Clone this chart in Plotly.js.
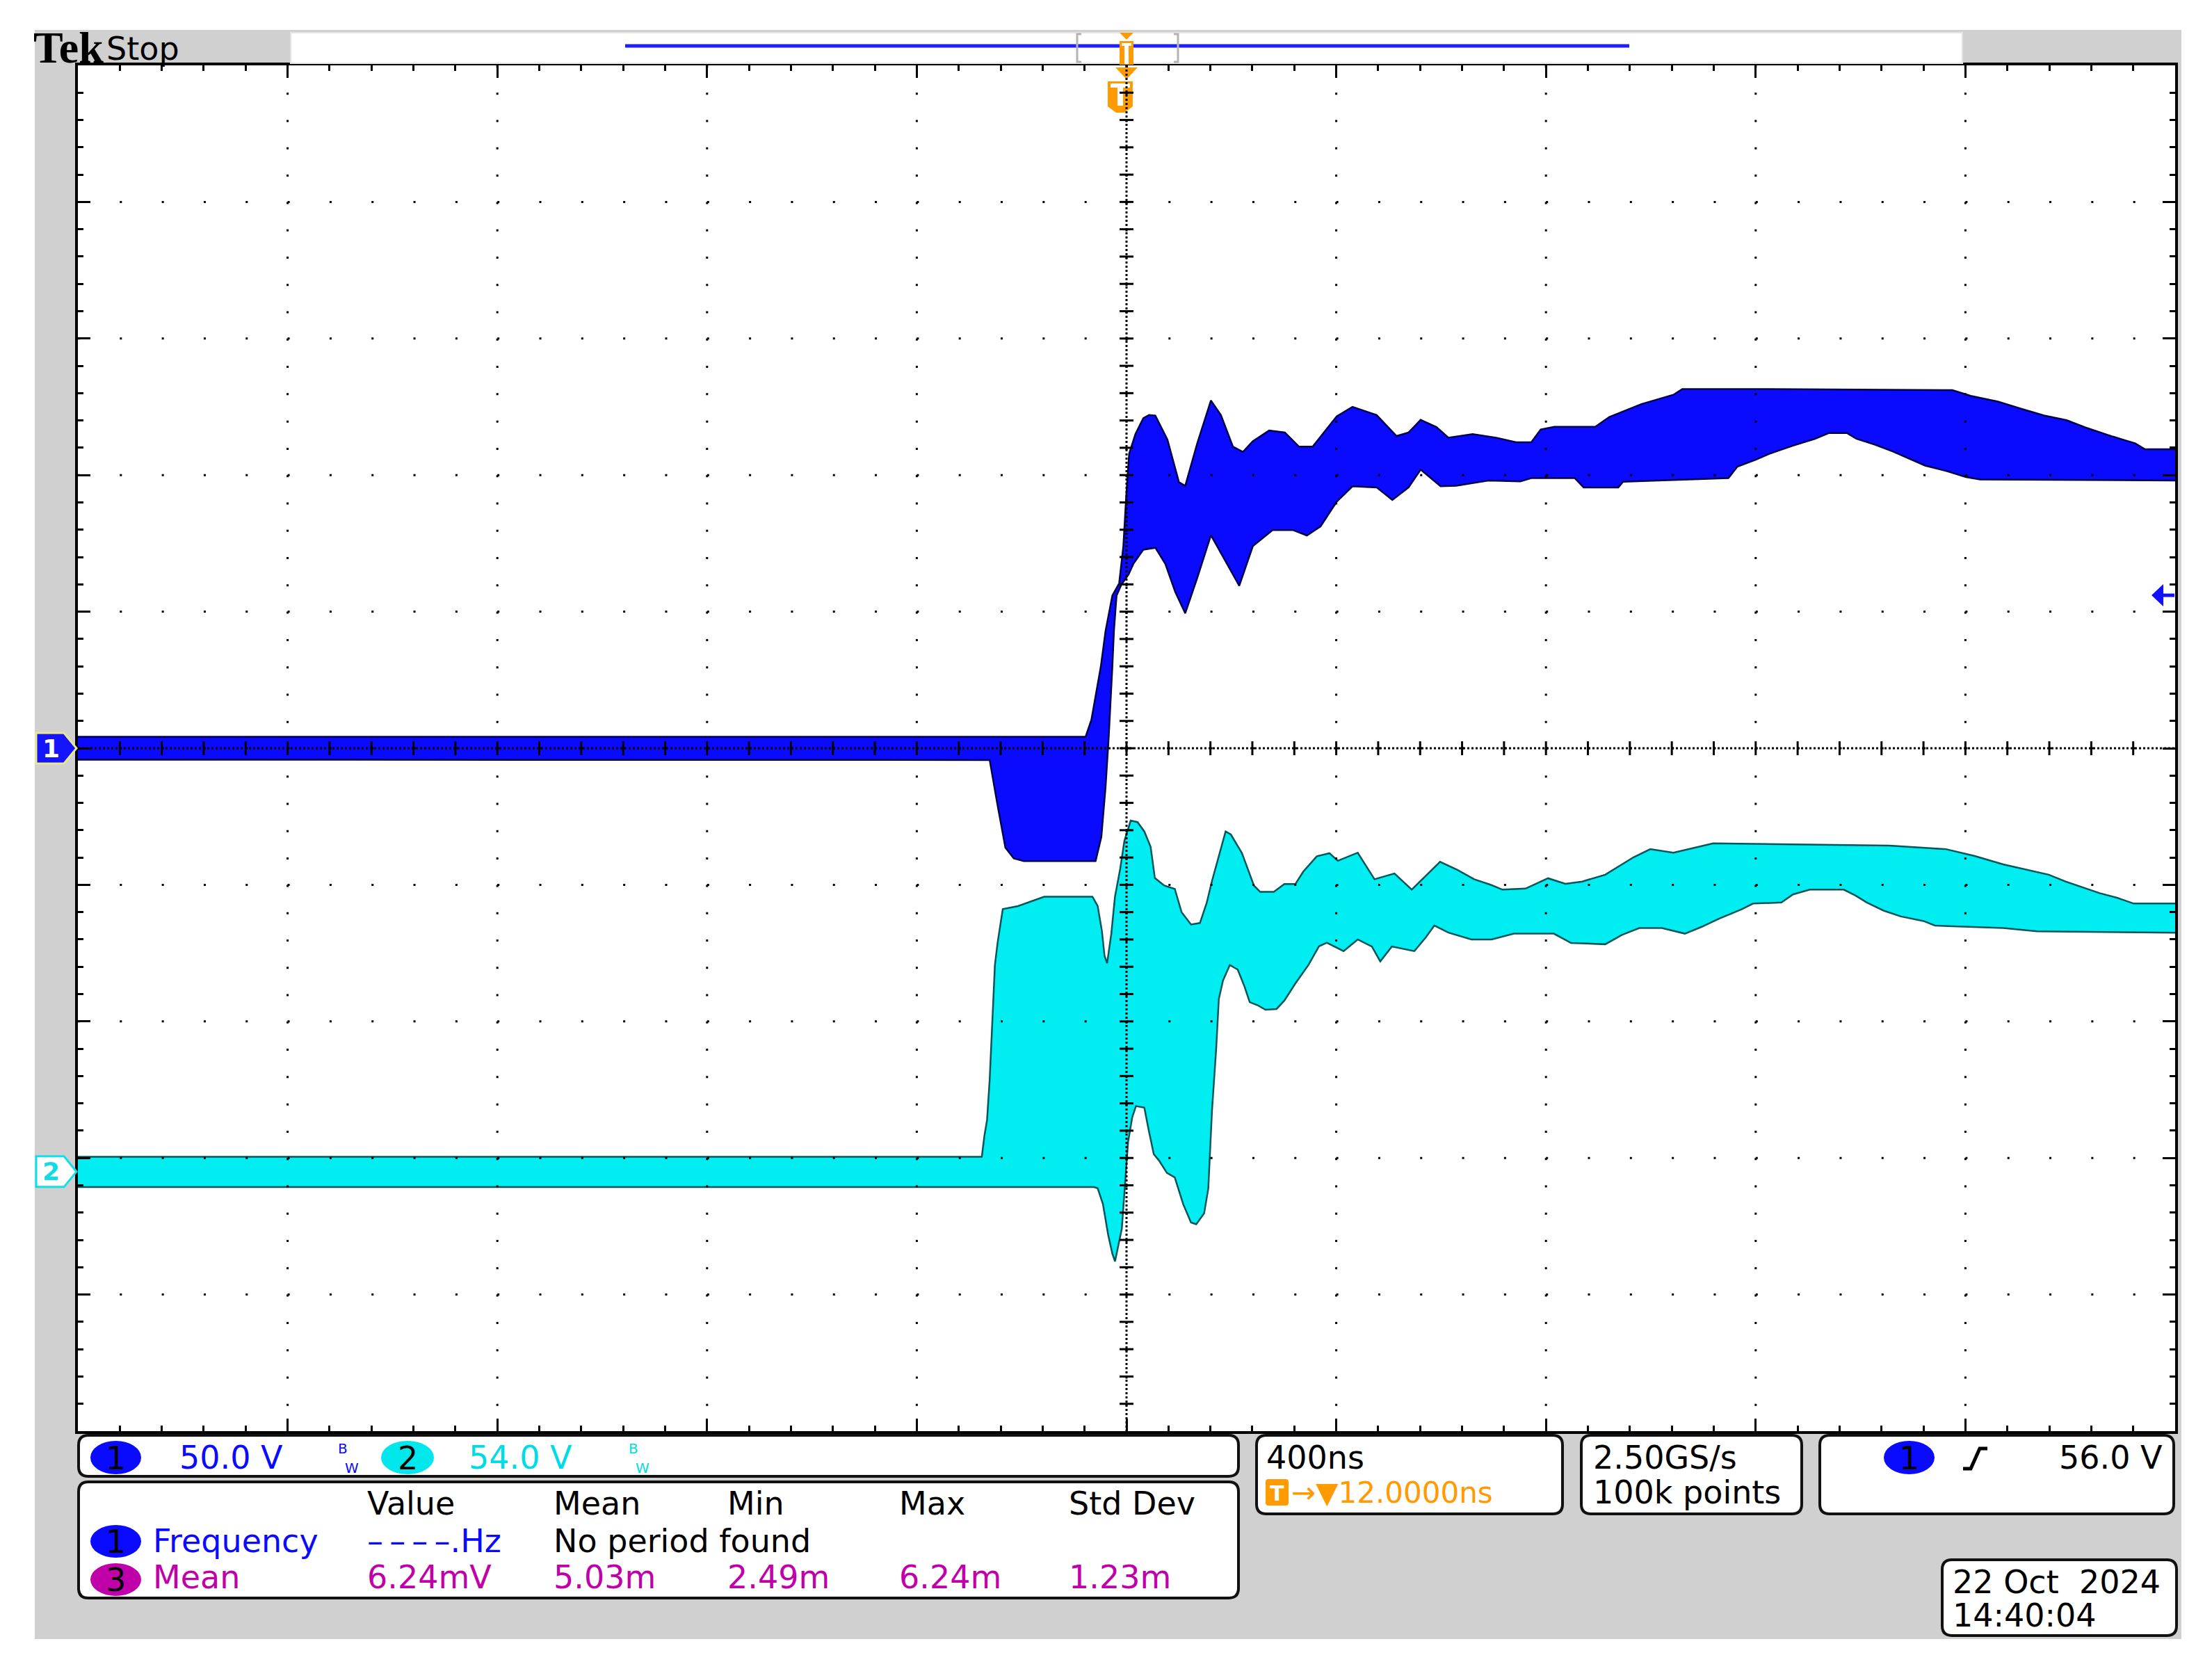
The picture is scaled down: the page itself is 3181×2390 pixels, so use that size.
<!DOCTYPE html>
<html><head><meta charset="utf-8">
<script src="https://cdn.plot.ly/plotly-3.0.1.min.js"></script>
<style>html,body{margin:0;padding:0;background:#fff;}</style>
</head><body>
<div id="chart" style="width:3181px;height:2390px;"></div>
<script>
// ---------------- Acquisition settings ----------------
const timePerDiv = 400;        // ns / div
const ch1VoltsPerDiv = 50.0;   // V / div
const ch2VoltsPerDiv = 54.0;   // V / div
const ch1Position = 0;         // div
const ch2Position = -3.1;      // div
const triggerLevel = 56.0;     // V (ch1, rising)
const triggerOffset = 12.0;    // ns, trigger -> center

// ---------------- Channel 1 envelope (time ns, volts) ----------------
const ch1UpperT = [-2000,-78,-67,-49,-40,-27,-14,-6,-1,5,17,32,43,55,78,100,112,135,161,180,203,222,241,272,302,329,355,374,401,431,477,515,538,561,591,614,660,705,743,772,790,816,894,921,955,982,1043,1060,1226,1575,1610,1662,1706,1750,1793,1828,1881,1924,1942,2000];
const ch1UpperV = [4.2,4.2,10.4,29.9,42.9,55.9,60.4,74,90.9,107.8,115,120.8,122,121.8,113,97.4,96.1,111.7,127.3,122,110.4,108.5,112.4,116.3,115.6,110.4,110.4,115,121.5,125,122,114.3,115.6,120.2,117.6,113.7,115,113.7,112,112,116.7,117.7,117.7,121.3,123.9,126,129.4,131.5,131.5,131.1,129,126.9,124.3,121.8,120.1,117.5,114.1,111.6,109.5,109.5];
const ch1LowerT = [-2000,-261,-246,-231,-215,-196,-59,-48,-40,-34,-27,-24,-19,-10,4,13,32,55,74,93,112,135,161,188,215,241,279,317,344,370,401,431,477,507,538,561,599,629,690,751,772,855,872,938,947,1148,1165,1200,1226,1270,1313,1340,1374,1392,1427,1462,1488,1523,1566,1601,1628,2000];
const ch1LowerV = [-4.2,-4.3,-20.8,-36.4,-40.3,-41.3,-41.3,-32.5,-14.3,3.9,29.9,42.9,55.9,59.8,63.7,67.5,72.7,73.4,67.5,57.2,49.4,62.4,78,68.9,59.5,74,79.9,79.9,77.9,81.2,90.3,95.9,95.5,90.9,95.5,102,95.9,96.1,98,97.7,98.9,98.9,95.5,95.5,97.6,98.9,103.1,105.6,107.8,110.7,113.3,115.4,115.4,113.3,111.2,108.6,106.5,103.5,101.4,99.3,98.4,98];

// ---------------- Channel 2 envelope (time ns, volts) ----------------
const ch2UpperT = [-2000,-276,-271,-266,-261,-256,-251,-246,-236,-207,-157,-65,-55,-47,-42,-37,-29,-22,-12,-4,8,21,34,46,54,72,92,105,123,140,153,163,179,189,199,220,243,255,281,301,322,337,363,387,403,441,473,511,544,576,598,631,663,696,717,761,804,837,869,913,945,967,999,1043,1119,1455,1563,1618,1672,1721,1759,1791,1824,1856,1889,1921,2000];
const ch2UpperV = [5.9,5.9,14.2,20.4,36.3,60.9,81.7,90.3,103.8,105,108.7,108.7,105,95.2,85.4,82.4,94,108.7,119.8,130.8,138.8,138.2,134.5,128.4,116.1,113.1,111.8,102.6,97.7,98.3,106.3,114.9,127.2,134.5,133.3,126,113.1,110.6,110.6,113.7,113.7,118.6,124.7,125.9,122.9,126.1,115.6,117.9,111.5,117.9,122.5,119.3,115.6,113.3,111.5,111.9,116,113.8,114.7,117.4,121.5,124.3,127.5,126.1,129.8,128.9,127.5,124.8,121.5,119.3,117.4,114.7,112.4,110.1,108.3,106,106];
const ch2LowerT = [-2000,-62,-55,-45,-35,-27,-22,-9,3,11,18,34,42,52,62,77,92,108,123,133,148,156,163,171,176,184,197,212,225,235,250,265,286,301,322,347,367,382,414,441,468,484,506,549,571,587,614,658,696,739,815,848,913,945,978,1021,1065,1097,1130,1173,1195,1249,1271,1303,1368,1390,1412,1444,1477,1520,1542,1672,1737,2000];
const ch2LowerV = [-6.1,-6.1,-6.6,-12.8,-25,-32.4,-35.5,-22.6,11.8,21.6,25.9,25.3,16.7,6.9,4.4,-0.5,-2.3,-12.8,-20.1,-20.8,-16.5,-6.6,24.1,48.6,68.2,75.6,81.7,79.9,73.2,67,65.8,64,64.3,67.6,74.4,81.7,89.1,90.5,87.2,91.8,89,83.1,89,87.2,92.7,97.3,94.5,91.8,91.8,94.1,94.1,90.4,89.9,93.6,96.3,96.3,94.1,96.8,100,103.7,106,106.4,109.6,111.5,111.5,109.2,106.4,103.2,100.9,99.1,97.3,96.3,95,94.5];

// ---------------- Readout texts ----------------
const measHeaders = ['Value', 'Mean', 'Min', 'Max', 'Std Dev'];
const meas1Label = 'Frequency';
const meas1Values = ['\u2013\u2009\u2013\u2009\u2013\u2009\u2013.Hz', 'No period found'];
const meas3Label = 'Mean';
const meas3Values = ['6.24mV', '5.03m', '2.49m', '6.24m', '1.23m'];
const timebaseText = '400ns';
const sampleRateText = '2.50GS/s';
const recordText = '100k points';
const dateText = '22 Oct\u00a0 2024';
const timeText = '14:40:04';

// ---------------- Geometry helpers ----------------
const W = 3181, H = 2390;
const L = 112, R = 3128, T = 94, B = 2058;
const PX = x => (x - L) / (R - L);
const PY = y => (B - y) / (B - T);
const divX = (R - L) / 10, divY = (B - T) / 10;
const FONT = 'DejaVu Sans, Verdana, sans-serif';
const C1 = '#0a0aff', C2 = '#00eef2', C2TXT = '#00dce4', C3 = '#c000a8', ORANGE = '#ff9a00';

const toDiv1 = v => v / ch1VoltsPerDiv + ch1Position;
const toDiv2 = v => v / ch2VoltsPerDiv + ch2Position;

function poly(pts) { return 'M' + pts.map(p => PX(p[0]) + ',' + PY(p[1])).join('L') + 'Z'; }
function openPath(pts) { return 'M' + pts.map(p => PX(p[0]) + ',' + PY(p[1])).join('L'); }
function rrect(x0, y0, x1, y1, r) {
  const f = (x, y) => PX(x) + ',' + PY(y);
  return 'M' + f(x0 + r, y0) + 'L' + f(x1 - r, y0) + 'Q' + f(x1, y0) + ' ' + f(x1, y0 + r) +
    'L' + f(x1, y1 - r) + 'Q' + f(x1, y1) + ' ' + f(x1 - r, y1) +
    'L' + f(x0 + r, y1) + 'Q' + f(x0, y1) + ' ' + f(x0, y1 - r) +
    'L' + f(x0, y0 + r) + 'Q' + f(x0, y0) + ' ' + f(x0 + r, y0) + 'Z';
}
function rectPx(x0, y0, x1, y1, color, layer) {
  return {type: 'rect', xref: 'paper', yref: 'paper', x0: PX(x0), x1: PX(x1), y0: PY(y1), y1: PY(y0),
    fillcolor: color, line: {width: 0}, layer: layer || 'above'};
}
function ovalPx(x0, y0, x1, y1, color) {
  return {type: 'circle', xref: 'paper', yref: 'paper', x0: PX(x0), x1: PX(x1), y0: PY(y1), y1: PY(y0),
    fillcolor: color, line: {width: 0}, layer: 'above'};
}
function ann(text, x, y, o) {
  o = o || {};
  return Object.assign({text: text, xref: 'paper', yref: 'paper', x: PX(x), y: PY(y),
    xanchor: 'left', yanchor: 'middle', showarrow: false,
    font: {family: FONT, size: o.size || 46, color: o.color || '#000'}}, o.extra || {});
}

// ---------------- Traces ----------------
const traces = [
  {x: ch2LowerT, y: ch2LowerV.map(toDiv2), mode: 'lines', line: {color: '#00565a', width: 2.5}, hoverinfo: 'skip', showlegend: false},
  {x: ch2UpperT, y: ch2UpperV.map(toDiv2), mode: 'lines', line: {color: '#00565a', width: 2.5}, fill: 'tonexty', fillcolor: C2, hoverinfo: 'skip', showlegend: false},
  {x: ch1LowerT, y: ch1LowerV.map(toDiv1), mode: 'lines', line: {color: '#00004a', width: 2.5}, hoverinfo: 'skip', showlegend: false},
  {x: ch1UpperT, y: ch1UpperV.map(toDiv1), mode: 'lines', line: {color: '#00004a', width: 2.5}, fill: 'tonexty', fillcolor: C1, hoverinfo: 'skip', showlegend: false}
];

// ---------------- Shapes ----------------
const shapes = [];
shapes.push(rectPx(50, 43, 3137, 2357, '#d0d0d0', 'below'));
shapes.push({type: 'rect', xref: 'paper', yref: 'paper', x0: 0, x1: 1, y0: 0, y1: 1, fillcolor: '#ffffff', line: {width: 0}, layer: 'below'});

// record view bar
shapes.push({type: 'rect', xref: 'paper', yref: 'paper', x0: PX(418), x1: PX(2822), y0: PY(91), y1: PY(47),
  fillcolor: '#ffffff', line: {color: '#e4e4e4', width: 2}, layer: 'above'});
shapes.push({type: 'line', xref: 'paper', yref: 'paper', x0: PX(899), x1: PX(2343), y0: PY(66), y1: PY(66),
  line: {color: '#1e1eff', width: 5}, layer: 'above'});
shapes.push({type: 'path', xref: 'paper', yref: 'paper', path: openPath([[1555, 49], [1549, 49], [1549, 89], [1555, 89]]),
  line: {color: '#b4b4b4', width: 3}, fillcolor: 'rgba(0,0,0,0)', layer: 'above'});
shapes.push({type: 'path', xref: 'paper', yref: 'paper', path: openPath([[1688, 49], [1694, 49], [1694, 89], [1688, 89]]),
  line: {color: '#b4b4b4', width: 3}, fillcolor: 'rgba(0,0,0,0)', layer: 'above'});
const cx = L + 5 * divX;
shapes.push({type: 'path', xref: 'paper', yref: 'paper', path: poly([[cx - 10, 47], [cx + 10, 47], [cx, 57]]), fillcolor: ORANGE, line: {width: 0}, layer: 'above'});
shapes.push(rectPx(cx - 10, 59, cx + 10, 93, ORANGE));
shapes.push(rectPx(cx - 7, 62, cx + 7, 66, '#ffffff'));
shapes.push(rectPx(cx - 3, 66, cx + 3, 92, '#ffffff'));
shapes.push({type: 'path', xref: 'paper', yref: 'paper', path: poly([[cx - 16, 97], [cx + 16, 97], [cx, 114]]), fillcolor: ORANGE, line: {width: 0}, layer: 'above'});
// trigger position marker
const tp = cx - (triggerOffset / timePerDiv) * divX;
shapes.push({type: 'path', xref: 'paper', yref: 'paper',
  path: poly([[tp - 18, 117], [tp + 18, 117], [tp + 18, 153], [tp + 6, 162], [tp - 6, 162], [tp - 18, 153]]),
  fillcolor: ORANGE, line: {width: 0}, layer: 'above'});
shapes.push(rectPx(tp - 14, 120, tp + 14, 126, '#ffffff'));
shapes.push(rectPx(tp - 4, 126, tp + 4, 152, '#ffffff'));

// graticule (above the waveforms, as on the scope)
const xMin = -5 * timePerDiv, xMax = 5 * timePerDiv;
for (let i = 1; i < 10; i++) {
  const x = xMin + i * timePerDiv;
  shapes.push({type: 'line', xref: 'x', yref: 'y', x0: x, x1: x, y0: 5, y1: -5,
    line: {color: '#000', width: 3, dash: '3px,' + (divY / 5 - 3).toFixed(3) + 'px'}, layer: 'above'});
}
for (let j = 1; j < 10; j++) {
  const y = -5 + j;
  shapes.push({type: 'line', xref: 'x', yref: 'y', x0: xMin, x1: xMax, y0: y, y1: y,
    line: {color: '#000', width: 3, dash: '3px,' + (divX / 5 - 3).toFixed(3) + 'px'}, layer: 'above'});
}
shapes.push({type: 'line', xref: 'x', yref: 'y', x0: xMin, x1: xMax, y0: 0, y1: 0, line: {color: '#000', width: 3, dash: '3px,3px'}, layer: 'above'});
shapes.push({type: 'line', xref: 'x', yref: 'y', x0: 0, x1: 0, y0: 5, y1: -5, line: {color: '#000', width: 3, dash: '3px,3px'}, layer: 'above'});
const tickHalfX = 10 / divX * timePerDiv, tickHalfY = 10 / divY;
for (let k = 1; k < 50; k++) {
  const x = xMin + k * timePerDiv / 5;
  shapes.push({type: 'line', xref: 'x', yref: 'y', x0: x, x1: x, y0: -tickHalfY, y1: tickHalfY, line: {color: '#000', width: 3}, layer: 'above'});
  const y = -5 + k * 0.2;
  shapes.push({type: 'line', xref: 'x', yref: 'y', x0: -tickHalfX, x1: tickHalfX, y0: y, y1: y, line: {color: '#000', width: 3}, layer: 'above'});
}

// channel ground markers
const mh = 22 / divY;
shapes.push({type: 'path', xref: 'paper', yref: 'y',
  path: 'M' + PX(52) + ',' + (ch1Position + mh) + 'L' + PX(92) + ',' + (ch1Position + mh) + 'L' + PX(110) + ',' + ch1Position +
        'L' + PX(92) + ',' + (ch1Position - mh) + 'L' + PX(52) + ',' + (ch1Position - mh) + 'Z',
  fillcolor: '#1414ff', line: {color: '#e8e890', width: 3}, layer: 'above'});
shapes.push({type: 'path', xref: 'paper', yref: 'y',
  path: 'M' + PX(52) + ',' + (ch2Position + mh) + 'L' + PX(92) + ',' + (ch2Position + mh) + 'L' + PX(110) + ',' + ch2Position +
        'L' + PX(92) + ',' + (ch2Position - mh) + 'L' + PX(52) + ',' + (ch2Position - mh) + 'Z',
  fillcolor: '#ffffff', line: {color: '#10e0e8', width: 3}, layer: 'above'});
// trigger level arrow (right edge)
const tl = triggerLevel / ch1VoltsPerDiv + ch1Position;
const ah = 16 / divY;
shapes.push({type: 'path', xref: 'paper', yref: 'y',
  path: 'M' + PX(3094) + ',' + tl + 'L' + PX(3111) + ',' + (tl + ah) + 'L' + PX(3111) + ',' + (tl - ah) + 'Z',
  fillcolor: '#1010ff', line: {width: 0}, layer: 'above'});
shapes.push({type: 'line', xref: 'paper', yref: 'y', x0: PX(3108), x1: PX(3127), y0: tl, y1: tl, line: {color: '#1010ff', width: 5}, layer: 'above'});

// readout boxes
const boxes = [[113, 2064, 1781, 2123], [113, 2131, 1781, 2298], [1807, 2064, 2247, 2177], [2274, 2064, 2591, 2177], [2617, 2064, 3126, 2177], [2793, 2243, 3130, 2352]];
boxes.forEach(b => shapes.push({type: 'path', xref: 'paper', yref: 'paper', path: rrect(b[0], b[1], b[2], b[3], 14),
  fillcolor: '#ffffff', line: {color: '#111', width: 4}, layer: 'above'}));
shapes.push(ovalPx(130, 2072, 203, 2120, C1));
shapes.push(ovalPx(548, 2072, 624, 2120, '#00e8ec'));
shapes.push(ovalPx(130, 2193, 203, 2240, C1));
shapes.push(ovalPx(130, 2248, 203, 2295, C3));
shapes.push(ovalPx(2709, 2072, 2782, 2120, C1));
shapes.push({type: 'path', xref: 'paper', yref: 'paper', path: rrect(1820, 2127, 1853, 2165, 4), fillcolor: ORANGE, line: {width: 0}, layer: 'above'});
shapes.push({type: 'path', xref: 'paper', yref: 'paper', path: openPath([[2823, 2112], [2834, 2112], [2847, 2083], [2858, 2083]]),
  line: {color: '#000', width: 5}, fillcolor: 'rgba(0,0,0,0)', layer: 'above'});

// ---------------- Annotations ----------------
const anns = [];
anns.push({text: '<b>Tek</b>', xref: 'paper', yref: 'paper', x: PX(46), y: PY(69), xanchor: 'left', yanchor: 'middle', showarrow: false,
  font: {family: 'Liberation Serif, DejaVu Serif, serif', size: 64, color: '#000'}});
anns.push(ann('Stop', 151, 70, {size: 46}));
anns.push({text: '<b>1</b>', xref: 'paper', yref: 'y', x: PX(73), y: ch1Position, xanchor: 'center', yanchor: 'middle', showarrow: false,
  font: {family: FONT, size: 36, color: '#ffffff'}});
anns.push({text: '<b>2</b>', xref: 'paper', yref: 'y', x: PX(73), y: ch2Position, xanchor: 'center', yanchor: 'middle', showarrow: false,
  font: {family: FONT, size: 36, color: '#10dce4'}});

anns.push(ann('1', 166, 2097, {extra: {xanchor: 'center'}}));
anns.push(ann(ch1VoltsPerDiv.toFixed(1) + ' V', 256, 2096, {color: C1}));
anns.push(ann('B', 484, 2083, {size: 20, color: C1}));
anns.push(ann('W', 494, 2111, {size: 20, color: C1}));
anns.push(ann('2', 586, 2097, {extra: {xanchor: 'center'}}));
anns.push(ann(ch2VoltsPerDiv.toFixed(1) + ' V', 672, 2096, {color: C2TXT}));
anns.push(ann('B', 902, 2083, {size: 20, color: C2TXT}));
anns.push(ann('W', 912, 2111, {size: 20, color: C2TXT}));

const colX = [526, 794, 1044, 1291, 1535];
measHeaders.forEach((h, i) => anns.push(ann(h, colX[i], 2162)));
anns.push(ann('1', 166, 2217, {extra: {xanchor: 'center'}}));
anns.push(ann(meas1Label, 218, 2216, {color: C1}));
anns.push(ann(meas1Values[0], 526, 2216, {color: C1}));
anns.push(ann(meas1Values[1], 794, 2216));
anns.push(ann('3', 166, 2272, {extra: {xanchor: 'center'}}));
anns.push(ann(meas3Label, 218, 2268, {color: C3}));
meas3Values.forEach((v, i) => anns.push(ann(v, colX[i], 2268, {color: C3})));

anns.push(ann(timebaseText, 1819, 2096));
anns.push(ann('<b>T</b>', 1836.5, 2147, {size: 30, color: '#ffffff', extra: {xanchor: 'center'}}));
anns.push(ann('\u2192\u25BC' + triggerOffset.toFixed(4) + 'ns', 1855, 2146, {size: 42, color: ORANGE}));
anns.push(ann(sampleRateText, 2289, 2096));
anns.push(ann(recordText, 2289, 2146));
anns.push(ann('1', 2745, 2097, {extra: {xanchor: 'center'}}));
anns.push(ann(triggerLevel.toFixed(1) + ' V', 3112, 2096, {extra: {xanchor: 'right'}}));
anns.push(ann(dateText, 2806, 2275));
anns.push(ann(timeText, 2806, 2323));

// ---------------- Layout ----------------
const axisCommon = {showgrid: false, zeroline: false, showticklabels: false, ticks: 'inside', tickcolor: '#000', tickwidth: 3,
  showline: true, linecolor: '#000', linewidth: 4, mirror: 'ticks', layer: 'above traces', fixedrange: true};
const layout = {
  width: W, height: H,
  margin: {l: L, r: W - R, t: T, b: H - B, pad: 0, autoexpand: false},
  paper_bgcolor: '#ffffff', plot_bgcolor: '#ffffff',
  showlegend: false,
  xaxis: Object.assign({}, axisCommon, {range: [xMin, xMax], tickmode: 'linear', tick0: xMin, dtick: timePerDiv, ticklen: 18,
    minor: {ticks: 'inside', tickmode: 'linear', tick0: xMin, dtick: timePerDiv / 5, ticklen: 8, tickwidth: 3, tickcolor: '#000', showgrid: false}}),
  yaxis: Object.assign({}, axisCommon, {range: [-5, 5], tickmode: 'linear', tick0: -5, dtick: 1, ticklen: 18,
    minor: {ticks: 'inside', tickmode: 'linear', tick0: -5, dtick: 0.2, ticklen: 8, tickwidth: 3, tickcolor: '#000', showgrid: false}}),
  shapes: shapes,
  annotations: anns
};
Plotly.newPlot('chart', traces, layout, {staticPlot: true, displayModeBar: false});
</script>
</body></html>
